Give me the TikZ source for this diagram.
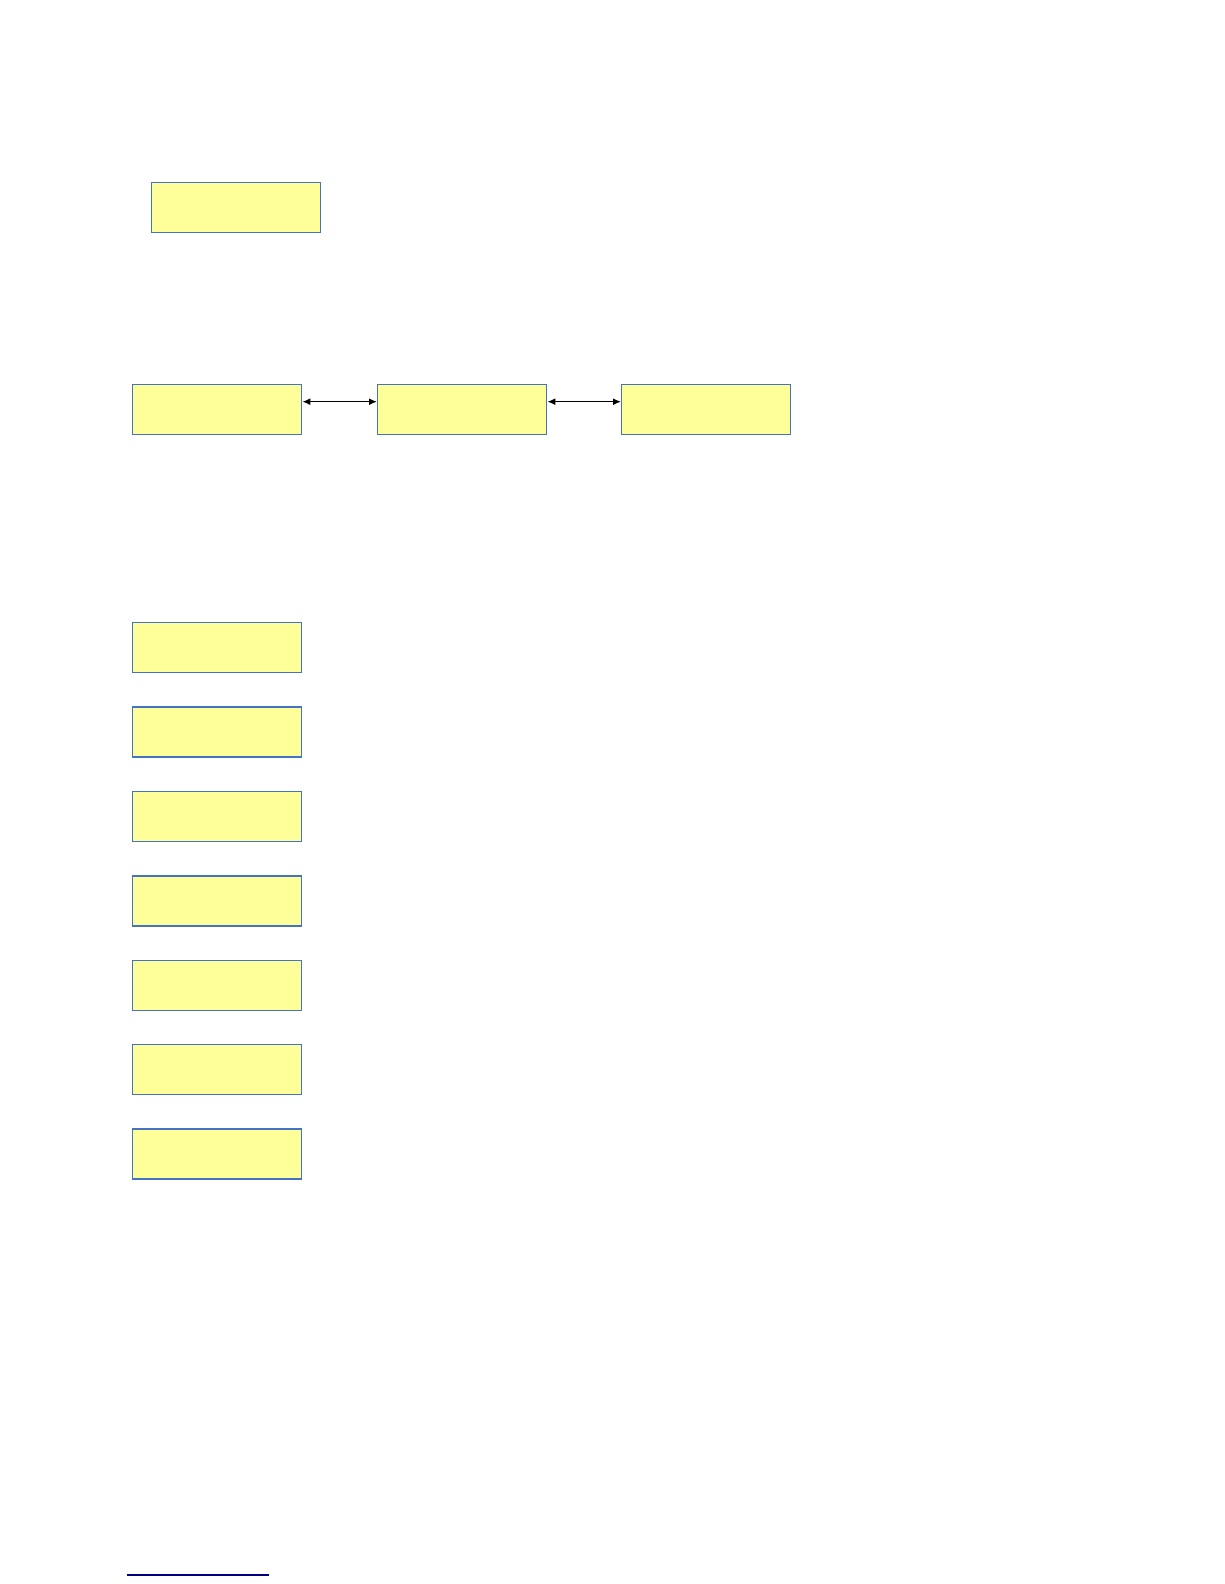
\documentclass[tikz,border=0pt]{standalone}
\usetikzlibrary{arrows.meta}
\definecolor{boxfill}{HTML}{FFFF99}
\definecolor{boxline}{HTML}{4472C4}
\definecolor{rulenavy}{HTML}{000080}
\begin{document}
\begin{tikzpicture}[x=1pt,y=-1pt,
  ybox/.style={draw=boxline,fill=boxfill,line width=1.4pt,minimum width=169pt,minimum height=50pt,inner sep=0pt,anchor=north west},
  link/.style={{Latex[length=8pt,width=7pt]}-{Latex[length=8pt,width=7pt]},line width=1.4pt,black}]
\useasboundingbox (0,0) rectangle (1224,1584);
\node[ybox] (top) at (151,182) {};
\node[ybox] (r1) at (132,384) {};
\node[ybox] (r2) at (377,384) {};
\node[ybox] (r3) at (621,384) {};
\draw[link] ([yshift=8pt]r1.east) -- ([yshift=8pt]r2.west);
\draw[link] ([yshift=8pt]r2.east) -- ([yshift=8pt]r3.west);
\foreach \i/\y in {1/622,2/706.4,3/790.8,4/875.2,5/959.6,6/1044,7/1128.4}{
  \node[ybox] (c\i) at (132,\y) {};
}
\coordinate (fa) at (127,1575);
\coordinate (fb) at (269,1575);
\draw[rulenavy,line width=1.2pt] (fa) -- (fb);
\end{tikzpicture}
\end{document}
